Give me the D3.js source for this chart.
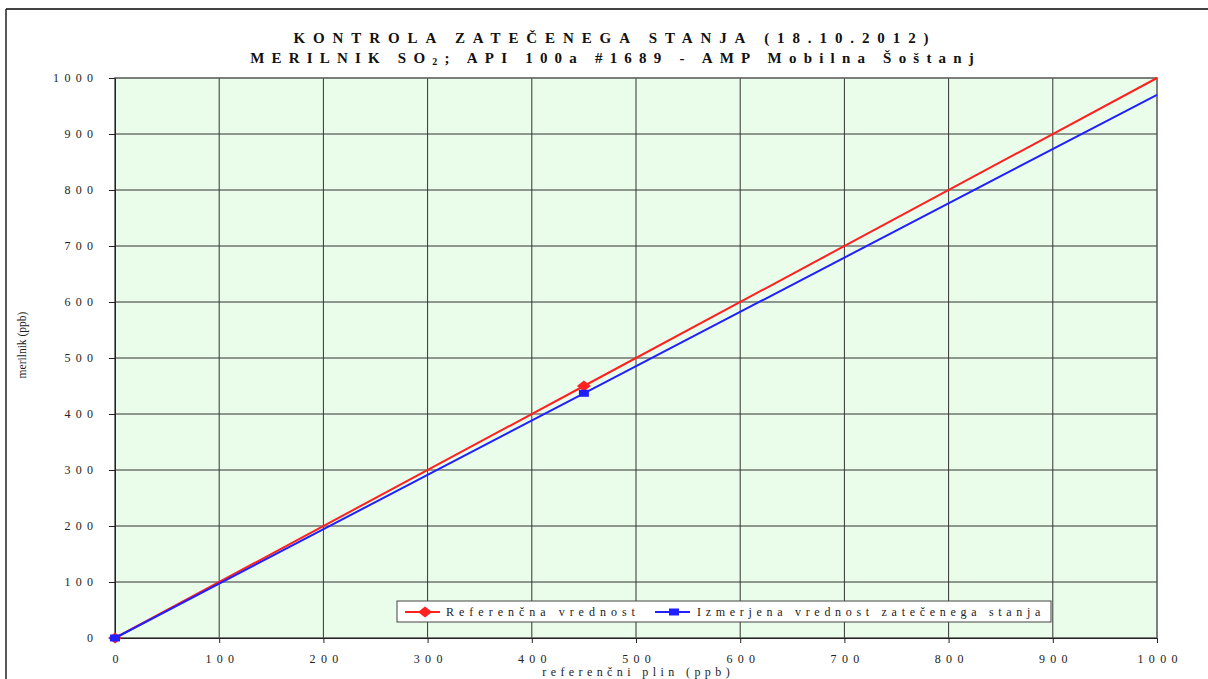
<!DOCTYPE html>
<html><head><meta charset="utf-8">
<script src="https://cdn.jsdelivr.net/npm/d3@7"></script>
<style>body{margin:0;background:#fff}svg{display:block}</style>
</head><body>
<script>
const xTicks = [0,100,200,300,400,500,600,700,800,900,1000];
const yTicks = [0,100,200,300,400,500,600,700,800,900,1000];
const refX = [0,450,1000];
const refY = [0,450,1000];
const measX = [0,450,1000];
const measY = [0,437,970];
const markerIdx = [0,1];
const seriesNames = ["Referenčna vrednost","Izmerjena vrednost zatečenega stanja"];
const seriesColors = ["#ff2020","#2020ff"];

const W=1208,H=679;
const svg=d3.select("body").append("svg").attr("width",W).attr("height",H);
const m={l:115,r:1157,t:78,b:638};
const x=d3.scaleLinear().domain([0,1000]).range([m.l,m.r]);
const y=d3.scaleLinear().domain([0,1000]).range([m.b,m.t]);
const serif="'Liberation Serif','Times New Roman',serif";

// outer border
svg.append("line").attr("x1",6).attr("x2",W).attr("y1",9).attr("y2",9).attr("stroke","#444").attr("stroke-width",2);
svg.append("line").attr("x1",6).attr("x2",6).attr("y1",9).attr("y2",H).attr("stroke","#222").attr("stroke-width",1.5);

// plot bg
svg.append("rect").attr("x",m.l).attr("y",m.t).attr("width",m.r-m.l).attr("height",m.b-m.t).attr("fill","#eafdea");

// grid
svg.append("g").selectAll("line").data(xTicks.slice(1,-1)).join("line")
 .attr("x1",d=>x(d)).attr("x2",d=>x(d)).attr("y1",m.t).attr("y2",m.b).attr("stroke","#333").attr("stroke-width",1);
svg.append("g").selectAll("line").data(yTicks.slice(1,-1)).join("line")
 .attr("y1",d=>y(d)).attr("y2",d=>y(d)).attr("x1",m.l).attr("x2",m.r).attr("stroke","#333").attr("stroke-width",1);
svg.append("rect").attr("x",m.l).attr("y",m.t).attr("width",m.r-m.l).attr("height",m.b-m.t).attr("fill","none").attr("stroke","#555").attr("stroke-width",1.5);

// axes
const LS=5.3;
const xa=svg.append("g").attr("transform",`translate(0,${m.b})`).call(d3.axisBottom(x).tickValues(xTicks).tickSize(5).tickPadding(11).tickFormat(d=>String(d)));
const ya=svg.append("g").attr("transform",`translate(${m.l},0)`).call(d3.axisLeft(y).tickValues(yTicks).tickSize(6).tickPadding(16).tickFormat(d=>String(d)));
[xa,ya].forEach(a=>{a.select(".domain").attr("stroke","#222");a.selectAll(".tick line").attr("stroke","#222");
 a.selectAll("text").attr("font-family",serif).attr("font-size",12).attr("fill","#222").attr("letter-spacing",LS+"px");});
xa.selectAll("text").attr("dy","0.71em").attr("dx",LS/2);
ya.selectAll("text").attr("dx",LS);

// lines
const line=d3.line().x(d=>x(d[0])).y(d=>y(d[1]));
const ref=refX.map((v,i)=>[v,refY[i]]), meas=measX.map((v,i)=>[v,measY[i]]);
svg.append("path").datum(ref).attr("d",line).attr("fill","none").attr("stroke",seriesColors[0]).attr("stroke-width",2);
svg.append("path").datum(meas).attr("d",line).attr("fill","none").attr("stroke",seriesColors[1]).attr("stroke-width",2);
const diamond="M-7,0L0,-5.5L7,0L0,5.5Z";
svg.append("g").selectAll("path").data(markerIdx.map(i=>ref[i])).join("path")
 .attr("d",diamond).attr("transform",d=>`translate(${x(d[0])},${y(d[1])})`).attr("fill",seriesColors[0]);
svg.append("g").selectAll("rect").data(markerIdx.map(i=>meas[i])).join("rect")
 .attr("x",d=>x(d[0])-5).attr("y",d=>y(d[1])-3.5).attr("width",10).attr("height",7).attr("fill",seriesColors[1]);

// titles
const s1=7.9, s2=7.2;
svg.append("text").attr("text-anchor","middle").attr("font-family",serif).attr("font-weight","bold").attr("font-size",15).attr("fill","#111")
 .attr("x",611).attr("dx",s1/2).attr("y",43).attr("letter-spacing",s1+"px").text("KONTROLA ZATEČENEGA STANJA (18.10.2012)");
const t2=svg.append("text").attr("text-anchor","middle").attr("font-family",serif).attr("font-weight","bold").attr("font-size",15).attr("fill","#111").attr("x",612+s2/2).attr("y",63).attr("letter-spacing",s2+"px");
t2.append("tspan").text("MERILNIK SO");
t2.append("tspan").attr("font-size",10).attr("dy",2).text("2");
t2.append("tspan").attr("dy",-2).text("; API 100a #1689 - AMP Mobilna Šoštanj");

svg.append("text").attr("transform",`translate(26,345) rotate(-90)`).attr("text-anchor","middle").attr("font-family",serif).attr("font-size",11.5).attr("fill","#222").text("merilnik (ppb)");
const s3=4.4;
svg.append("text").attr("x",636+s3/2).attr("y",676).attr("text-anchor","middle").attr("font-family",serif).attr("font-size",12).attr("letter-spacing",s3+"px").attr("fill","#222").text("referenčni plin (ppb)");

// legend
const lg=svg.append("g");
lg.append("rect").attr("x",397).attr("y",601).attr("width",654).attr("height",21).attr("fill","#fff").attr("stroke","#444").attr("stroke-width",1);
const items=[{x:405,tx:446,s:5.0},{x:655,tx:697,s:4.7}];
items.forEach((it,i)=>{
 lg.append("line").attr("x1",it.x).attr("x2",it.x+35).attr("y1",612).attr("y2",612).attr("stroke",seriesColors[i]).attr("stroke-width",2);
 if(i===0) lg.append("path").attr("d",diamond).attr("transform",`translate(${it.x+20},612)`).attr("fill",seriesColors[0]);
 else lg.append("rect").attr("x",it.x+14).attr("y",608.5).attr("width",10).attr("height",7).attr("fill",seriesColors[1]);
 lg.append("text").attr("x",it.tx).attr("y",616).attr("font-family",serif).attr("font-size",12).attr("letter-spacing",it.s+"px").attr("fill","#222").text(seriesNames[i]);
});
</script>
</body></html>
